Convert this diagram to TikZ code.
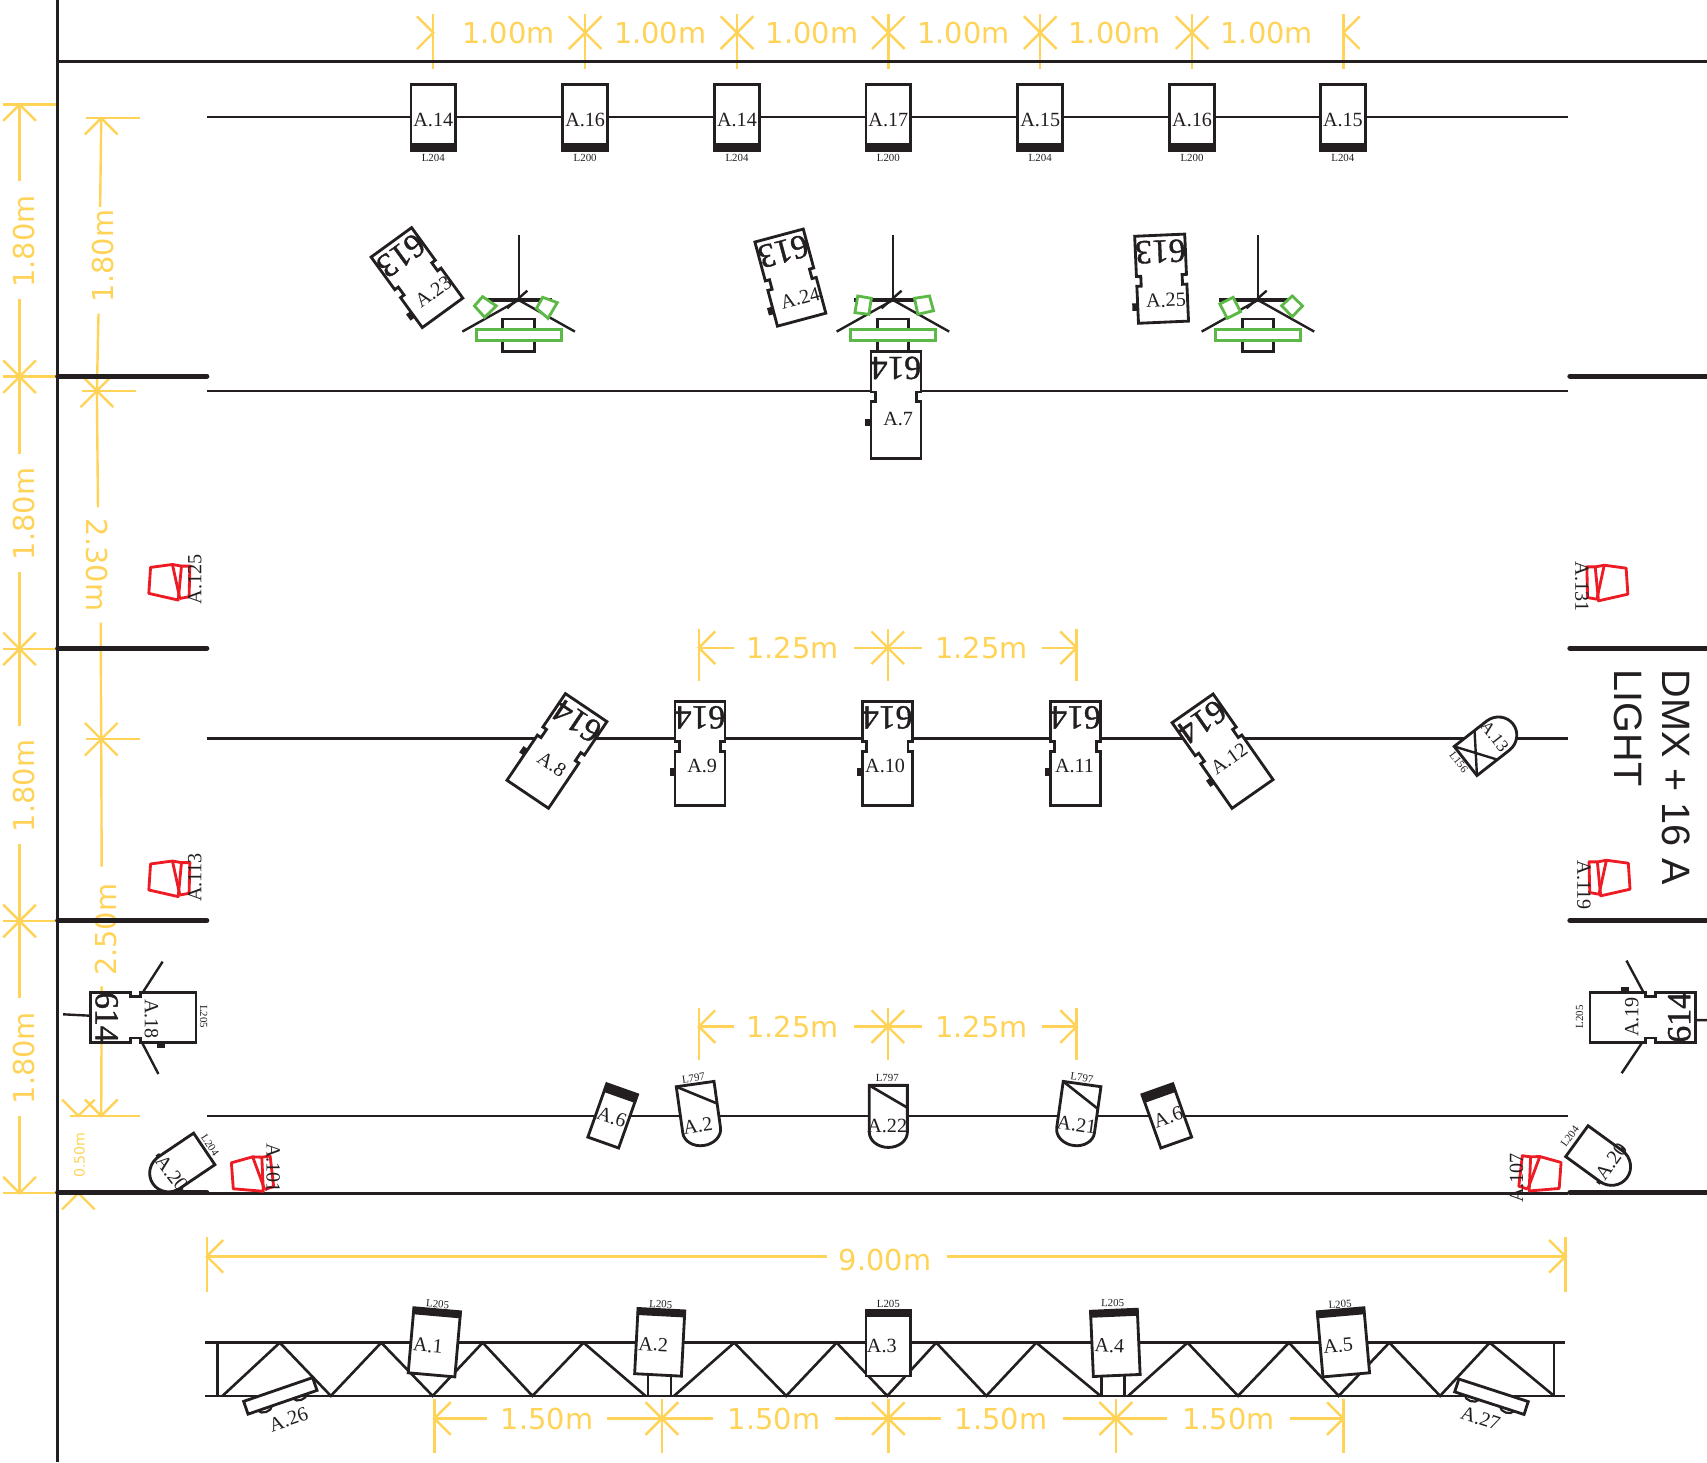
\documentclass[tikz,border=0pt]{standalone}
\usepackage{fontspec}
\setmainfont{Liberation Serif}
\newfontfamily\dimf{DejaVu Sans}
\newfontfamily\arialf{Liberation Sans}
\newfontfamily\numf{Liberation Serif}[FakeBold=1.2]
\definecolor{dimc}{HTML}{FFD357}
\definecolor{ink}{HTML}{231F20}
\definecolor{redc}{HTML}{ED1C24}
\definecolor{greenc}{HTML}{5DB947}
\newcounter{nn}
\tikzset{
  dimline/.style={draw=dimc,line width=2.2pt},
  thin line/.style={draw=ink,line width=2pt},
  wall/.style={draw=ink,line width=4.6pt,line cap=round},
  fix/.style={draw=ink,line width=2.6pt,fill=white,line join=miter},
  redfix/.style={draw=redc,line width=2.6pt,line join=round},
  greenfix/.style={draw=greenc,line width=2.6pt,fill=white},
  lbl/.style={inner sep=0pt,text=ink,font=\fontsize{18.5}{20}\selectfont},
  tiny/.style={inner sep=0pt,text=ink,font=\fontsize{10}{11}\selectfont},
  num/.style={inner sep=0pt,text=ink,font=\numf\fontsize{31}{32}\selectfont,transform shape},
  dimt/.style={inner sep=0pt,text=dimc,font=\dimf\fontsize{26.5}{28}\selectfont},
  bigt/.style={inner sep=0pt,text=ink,font=\arialf\fontsize{36.4}{38}\selectfont,anchor=base west,rotate=-90},
}
% text helpers
\newcommand\lab[4][0]{\stepcounter{nn}\node[lbl,rotate=#1] (t\thenn) at (#2,#3) {#4};}
\newcommand\tinylab[4][0]{\stepcounter{nn}\node[tiny,rotate=#1] (t\thenn) at (#2,#3) {#4};}
\newcommand\dimlab[4][0]{\stepcounter{nn}\node[dimt,rotate=#1] (t\thenn) at (#2,#3) {#4};}
% dimension marks
\newcommand\cross[2]{\draw[dimline] (#1-15,#2-15) -- (#1+15,#2+15) (#1-15,#2+15) -- (#1+15,#2-15);}
\newcommand\vlineat[3]{\draw[dimline] (#1,#2) -- (#1,#3);}
\newcommand\hlineat[3]{\draw[dimline] (#1,#3) -- (#2,#3);}
\newcommand\tipleft[2]{\draw[dimline] (#1+15,#2-15) -- (#1,#2) -- (#1+15,#2+15);}
\newcommand\tipright[2]{\draw[dimline] (#1-15,#2-15) -- (#1,#2) -- (#1-15,#2+15);}
\newcommand\tipup[2]{\draw[dimline] (#1-15,#2+15) -- (#1,#2) -- (#1+15,#2+15);}
\newcommand\tipdown[2]{\draw[dimline] (#1-15,#2-15) -- (#1,#2) -- (#1+15,#2-15);}
% profile fixture: cx cy rot height number
\newcommand\prof[5]{\begin{scope}[shift={(#1,#2)},rotate=#3]\begin{scope}[shift={(0,-#4/2)}]
  \fill[ink] (-28,61.5) rectangle (-22,68.5);
  \draw[fix] (-23,0) -- (23,0) -- (23,37) -- (19,37) -- (19,46) -- (23,46) -- (23,#4) -- (-23,#4) -- (-23,46) -- (-19,46) -- (-19,37) -- (-23,37) -- cycle;
  \stepcounter{nn}\node[num,rotate=180] (t\thenn) at (0,15) {#5};
\end{scope}\end{scope}}
% rectangular lamp: cx cy rot w h bandY0 bandY1
\newcommand\lamp[7]{\begin{scope}[shift={(#1,#2)},rotate=#3]
  \draw[fix] (-#4/2,-#5/2) rectangle (#4/2,#5/2);
  \fill[ink] (-#4/2-1,#6) rectangle (#4/2+1,#7);
\end{scope}}
% rounded head: cx cy rot
\newcommand\headA[3]{\begin{scope}[shift={(#1,#2)},rotate=#3]
  \draw[fix] (-17.5,-28.5) -- (17.5,-28.5) -- (17.5,14.5) .. controls (17.5,22.2) and (9.6,28.5) .. (0,28.5) .. controls (-9.6,28.5) and (-17.5,22.2) .. (-17.5,14.5) -- cycle;
  \draw[ink,line width=2.4pt] (-17.5,-28.5) -- (17.5,-8);
\end{scope}}
\newcommand\headB[3]{\begin{scope}[shift={(#1,#2)},rotate=#3]
  \fill[ink] (16,8) rectangle (20,12) (-20,8) rectangle (-16,12);
  \draw[fix] (-17.5,-28.5) -- (17.5,-28.5) -- (17.5,10.5) .. controls (17.5,20.4) and (9.6,28.5) .. (0,28.5) .. controls (-9.6,28.5) and (-17.5,20.4) .. (-17.5,10.5) -- cycle;
\end{scope}}
% red unit
\newcommand\redunit[4]{\begin{scope}[shift={(#1,#2)},rotate=#3,xscale=#4]
  \draw[redfix] (-17.7,-13.8) -- (2.4,-16.5) -- (10.7,-15) -- (7.7,16.2) -- (-19.3,10.1) -- cycle;
  \draw[redfix] (10.7,-15) -- (18.4,-15) -- (17.7,13.2) -- (9.2,14.7);
  \draw[redfix] (2.4,-16.5) -- (9.2,14.7);
\end{scope}}
% hanging unit with its two green gobos
\newcommand\hanger[9]{\begin{scope}[shift={(#1,0)}]
  \draw[ink,line width=2pt] (0,216) -- (0,277);
  \draw[ink,line width=3.4pt] (-36,275.6) -- (31,275.6);
  \draw[ink,line width=2.2pt] (-51.7,304.6) -- (0,275.6) -- (51.7,304.6);
  \draw[ink,line width=2.2pt] (-10.5,283.2) -- (8,267);
  \draw[fix] (-14.5,293) rectangle (14.5,323);
  \draw[greenfix] (-39,303) rectangle (39,312.6);
  \draw[greenfix] #2 -- #3 -- #4 -- #5 -- cycle;
  \draw[greenfix] #6 -- #7 -- #8 -- #9 -- cycle;
\end{scope}}
\begin{document}
\begin{tikzpicture}[x=1pt,y=-1pt]
\useasboundingbox (0,0) rectangle (1568,1343);
% ---------- dimensions ----------
% top row
\foreach \xx in {398,1234} {\vlineat{\xx}{13}{63}}
\foreach \xx in {537.5,677,816,955.5,1095} {\vlineat{\xx}{13}{63}\cross{\xx}{30}}
\tipright{398}{30}\tipleft{1234}{30}
\foreach \xx in {467,606.5,746,885,1024,1163.5} {\dimlab{\xx}{30.5}{1.00m}}
% 1.25 rows
\foreach \yy in {595,943} {
  \vlineat{642}{\yy-17}{\yy+31}\vlineat{815.5}{\yy-17}{\yy+31}\vlineat{989}{\yy-17}{\yy+31}
  \tipleft{642}{\yy}\tipright{989}{\yy}\cross{815.5}{\yy}
  \hlineat{642}{674}{\yy}\hlineat{784}{847}{\yy}\hlineat{957}{989}{\yy}
  \dimlab{728}{\yy+.5}{1.25m}\dimlab{901.5}{\yy+.5}{1.25m}
}
% 9.00
\vlineat{190}{1136}{1187}\vlineat{1438}{1136}{1187}
\tipleft{190}{1154}\tipright{1438}{1154}
\hlineat{190}{760}{1154}\hlineat{870}{1438}{1154}
\dimlab{813}{1157}{9.00m}
% 1.50
\foreach \xx in {399,608,816,1025,1234} {\vlineat{\xx}{1285}{1335}}
\foreach \xx in {608,816,1025} {\cross{\xx}{1303}}
\tipleft{399}{1303}\tipright{1234}{1303}
\hlineat{399}{447}{1303}\hlineat{558}{655}{1303}\hlineat{767}{864}{1303}\hlineat{976}{1072}{1303}\hlineat{1185}{1234}{1303}
\foreach \xx in {502.5,711,919.5,1128.5} {\dimlab{\xx}{1303.5}{1.50m}}
% left column
\foreach \yy in {96,346,596,846,1096} {\hlineat{3}{53}{\yy}}
\foreach \yy in {346,596,846} {\cross{18}{\yy}}
\tipup{18}{96}\tipdown{18}{1096}
\vlineat{18}{96}{166}\vlineat{18}{275}{417}\vlineat{18}{525}{667}\vlineat{18}{775}{917}\vlineat{18}{1025}{1096}
\foreach \yy in {222,472,722,972} {\dimlab[90]{22}{\yy}{1.80m}}
% second column
\hlineat{79}{128.5}{108.5}\tipup{93}{108.5}
\draw[dimline] (93,108.5) -- (92,190);
\dimlab[90]{95}{235}{1.80m}
\draw[dimline] (90.5,288) -- (89,359) -- (90,466);
\hlineat{75}{125}{359}\cross{89}{359}
\dimlab[-90]{89}{519}{2.30m}
\draw[dimline] (92.5,572) -- (93,679) -- (93.4,796);
\hlineat{79}{129}{679}\cross{93}{679}
\dimlab[90]{97}{854}{2.50m}
\draw[dimline] (93.4,906) -- (93,1025);
\hlineat{64}{129}{1025}\tipdown{93}{1025}\tipdown{72}{1025}
\stepcounter{nn}\node[dimt,font=\dimf\fontsize{13}{14}\selectfont,rotate=90] (t\thenn) at (73,1061) {0.50m};
\tipup{72}{1096}
% ---------- building lines ----------
\draw[ink,line width=2.6pt] (53,0) -- (53,1343);
\draw[ink,line width=3.6pt] (53,56.5) -- (1568,56.5);
\foreach \yy in {345.5,595.5,845.5,1095.5} {\draw[wall] (53,\yy) -- (190,\yy);\draw[wall] (1442,\yy) -- (1570,\yy);}
\foreach \yy in {107.7,359,678.3,1025.3,1096.3} {\draw[thin line] (190,\yy) -- (1440,\yy);}
% ---------- truss ----------
\draw[ink,line width=2.4pt] (188.5,1233.3) -- (1438,1233.3) (188.5,1282.2) -- (1438,1282.2);
\draw[ink,line width=2.4pt] (199.8,1233.3) -- (199.8,1282.2) (1427.5,1233.3) -- (1427.5,1282.2);
\draw[ink,line width=2.4pt] (204.4,1282.2) -- (257,1233.3) -- (303.9,1282.2) -- (350.2,1233.3) -- (397.4,1282.2) -- (443.4,1233.3) -- (489.1,1282.2) -- (536,1233.3) -- (592.9,1282.2);
\draw[ink,line width=2.4pt] (619.2,1282.2) -- (674.4,1233.3) -- (722.2,1282.2) -- (768.5,1233.3) -- (815,1282.2) -- (860,1233.3) -- (906,1282.2) -- (951.9,1233.3) -- (1010.9,1282.2);
\draw[ink,line width=2.4pt] (1036.3,1282.2) -- (1090.8,1233.3) -- (1137.2,1282.2) -- (1184,1233.3) -- (1229.7,1282.2) -- (1276.2,1233.3) -- (1322.8,1282.2) -- (1368.4,1233.3) -- (1427.5,1282.2);
\draw[ink,line width=2.4pt] (595.2,1262) -- (595.2,1282.2) (616.4,1262) -- (616.4,1282.2) (1011.7,1262) -- (1011.7,1282.2) (1032.8,1262) -- (1032.8,1282.2);
% truss lamps
\lamp{399}{1233}{-5}{43}{60}{-30}{-24}
\lamp{606}{1233}{-3}{43}{60}{-30}{-24}
\lamp{816}{1234}{0}{41}{60}{-30}{-24}
\lamp{1024.5}{1233.5}{2.5}{43}{60}{-30}{-24}
\lamp{1234}{1233}{5}{43}{60}{-30}{-24}
\lab[-5]{393}{1236}{A.1}\lab[-3]{600}{1235}{A.2}\lab{810}{1236}{A.3}\lab[-2.5]{1019}{1236}{A.4}\lab[5]{1229}{1236}{A.5}
\tinylab[-5]{402}{1198}{L205}\tinylab[-3]{607}{1198}{L205}\tinylab{816}{1198}{L205}\tinylab[-2]{1022}{1197}{L205}\tinylab[3]{1231}{1198}{L205}
% movers under truss
\foreach \cx/\cy/\rr in {257.5/1282.2/19,1370/1283/-18} {
\begin{scope}[shift={(\cx,\cy)},rotate=\rr]
  \draw[ink,line width=2pt] (-24,6) .. controls (-22,11) and (-12,11) .. (-10,6);
  \draw[ink,line width=2pt] (10,6) .. controls (12,11) and (22,11) .. (24,6);
  \draw[fix] (-33.5,-6.2) rectangle (33.5,6.2);
\end{scope}}
\lab[19]{265}{1304}{A.26}\lab[-18]{1360}{1303}{A.27}
% ---------- top row lamps ----------
\foreach \xx/\ll/\kk in {398/14/204,537.5/16/200,677/14/204,816/17/200,955.5/15/204,1095/16/200,1233.5/15/204} {
  \lamp{\xx}{108}{0}{41}{60}{23.5}{30}
  \lab{\xx}{110}{A.\ll}
  \tinylab{\xx}{145}{L\kk}
}
% ---------- hanging units ----------
\hanger{476.4}{(-40.6,281)}{(-33.1,272.5)}{(-20.5,281)}{(-31.2,291.4)}{(22.1,273.1)}{(35.5,278)}{(27,292.4)}{(16.4,283.2)}
\hanger{820.2}{(-32.3,271.9)}{(-19.8,274)}{(-22.1,288.7)}{(-34.9,287.2)}{(19.8,274)}{(33.6,271.9)}{(37.3,285.4)}{(22.9,288.7)}
\hanger{1155.5}{(-35,279.2)}{(-22.8,273.1)}{(-16,286.3)}{(-28.2,292.4)}{(21.8,280.8)}{(31.5,271.9)}{(41,281)}{(31.5,290.9)}
% ---------- profiles ----------
\prof{383}{255}{36}{80}{613}\lab[36]{398}{268}{A.23}
\prof{726}{255}{15}{80}{613}\lab[15]{735}{274}{A.24}
\prof{1067}{256}{2.5}{80}{613}\lab[2.5]{1071}{276}{A.25}
\prof{823}{372}{0}{98}{614}\lab{825}{385}{A.7}
\prof{511.6}{689.8}{-34}{96}{614}\lab[-34]{507}{702}{A.8}
\prof{643}{692}{0}{96}{614}\lab{645}{704}{A.9}
\prof{815}{692}{0}{96}{614}\lab{813}{704}{A.10}
\prof{988}{692}{0}{96}{614}\lab{987}{704}{A.11}
\prof{1123}{690}{35}{96}{614}\lab[35]{1129}{697}{A.12}
\draw[ink,line width=2.2pt] (131.6,910.9) -- (149.4,883.3) (130,956.8) -- (145.5,986.5) (58,931.7) -- (82.7,933);
\prof{131.5}{934.5}{90}{97}{614}\lab[-90]{139}{936}{A.18}
\tinylab[-90]{187}{934}{L205}
\draw[ink,line width=2.2pt] (1511,914) -- (1494,882.4) (1508,958.3) -- (1489.6,985.8) (1557,937) -- (1568,937);
\prof{1509}{934.5}{-90}{97}{614}\lab[90]{1499}{934}{A.19}
\tinylab[90]{1451}{934}{L205}
% ---------- row at 1025 ----------
\lamp{562.8}{1025}{-19.5}{30}{52}{-26}{-18}\lab[-19.5]{562}{1026}{A.6}
\lamp{1071.8}{1025}{19.5}{30}{52}{-26}{-18}\lab[19.5]{1073}{1026}{A.6}
\headA{642.5}{1024}{8}\lab[8]{641}{1034}{A.2}\tinylab[8]{637}{990.3}{L797}
\headA{816}{1025.5}{0}\lab{815}{1034}{A.22}\tinylab{815}{990}{L797}
\headA{990}{1024}{-8}\lab[-8]{989}{1033}{A.21}\tinylab[-8]{993.8}{990}{L797}
% ---------- side units ----------
\headB{164}{1071.3}{-56}\lab[-52]{157.7}{1077.7}{A.20}\tinylab[-56]{193}{1052}{L204}
\headB{1471.5}{1065}{54}\lab[54]{1480}{1067}{A.20}\tinylab[54]{1442}{1044}{L204}
\begin{scope}[shift={(1368,682)},rotate=128,scale=.97]
  \draw[fix] (-17.5,-28.5) -- (17.5,-28.5) -- (17.5,10.5) .. controls (17.5,20.4) and (9.6,28.5) .. (0,28.5) .. controls (-9.6,28.5) and (-17.5,20.4) .. (-17.5,10.5) -- cycle;
  \draw[ink,line width=2.2pt] (-17.5,-28.5) -- (17.5,-4) (17.5,-28.5) -- (-17.5,-4);
\end{scope}
\stepcounter{nn}\node[lbl,font=\fontsize{16}{18}\selectfont,rotate=-52] (t\thenn) at (1373,676.7) {A.13};
\tinylab[-52]{1340}{700}{L156}
% ---------- red units ----------
\redunit{156}{535}{0}{1}\lab[90]{179}{532}{A.125}
\redunit{156}{807.4}{0}{1}\lab[90]{179}{806}{A.113}
\redunit{232}{1079.3}{8}{1}\lab[-90]{251}{1073}{A.101}
\redunit{1476}{535.7}{0}{-1}\lab[-90]{1453}{539}{A.131}
\redunit{1478}{806.7}{0}{-1}\lab[-90]{1455}{813}{A.119}
\redunit{1414.5}{1079}{-8}{-1}\lab[90]{1393}{1082}{A.107}
% ---------- note ----------
\stepcounter{nn}\node[bigt] (t\thenn) at (1527,615) {DMX + 16 A};
\stepcounter{nn}\node[bigt] (t\thenn) at (1483,615) {LIGHT};
\end{tikzpicture}
\end{document}
